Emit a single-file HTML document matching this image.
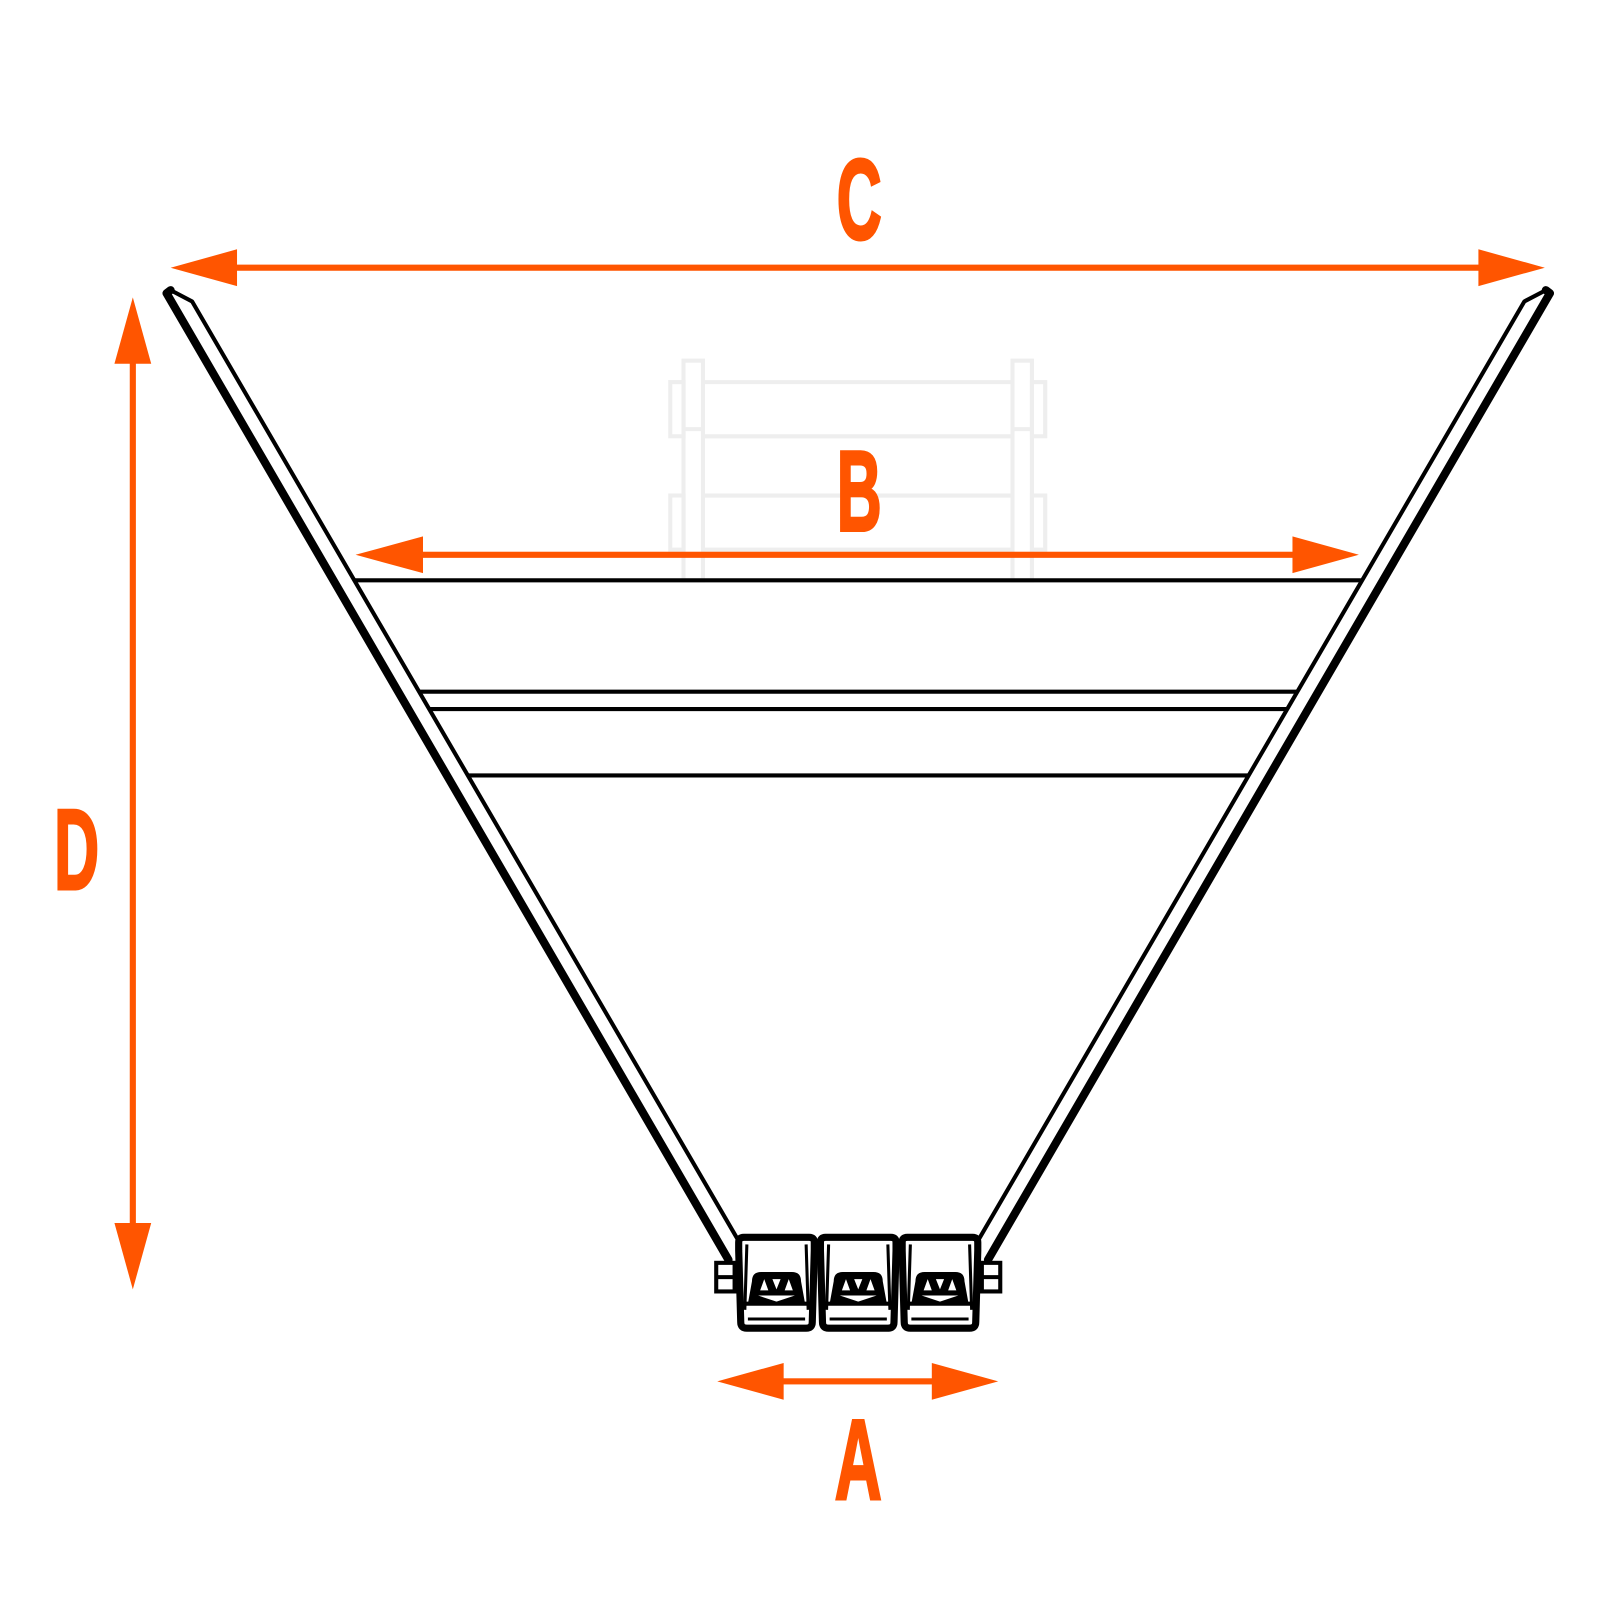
<!DOCTYPE html>
<html><head><style>html,body{margin:0;padding:0;background:#fff}svg{display:block}</style></head>
<body>
<svg width="1600" height="1600" viewBox="0 0 1566 1566" xmlns="http://www.w3.org/2000/svg">
<defs>
<g id="seat">
  <path d="M-37,-38 Q-37,-43 -32,-43 L32,-43 Q37,-43 37,-38 L37,-30 L35,40 Q35,46 29,46 L-29,46 Q-35,46 -35,40 L-37,-30 Z" fill="none" stroke="#000" stroke-width="7" stroke-linejoin="round"/>
  <line x1="-29" y1="-36" x2="-31" y2="28" stroke="#000" stroke-width="3"/>
  <line x1="29" y1="-36" x2="31" y2="28" stroke="#000" stroke-width="3"/>
  <path d="M-24,0 Q-24,-9 -15,-9 L15,-9 Q24,-9 24,0 L28,22 L-28,22 Z" fill="#000"/>
  <path d="M-12,-2 L-8,9 L-16,9 Z M12,-2 L8,9 L16,9 Z M-4,-2 L4,-2 L0,8 Z M-18,14 L18,14 L0,20 Z" fill="#fff"/>
  <line x1="-28" y1="37" x2="28" y2="37" stroke="#000" stroke-width="3"/>
  <line x1="-33" y1="22" x2="33" y2="22" stroke="#000" stroke-width="4"/>
</g>
</defs>
<g fill="none" stroke="#eeeeee" stroke-width="4">
  <rect x="669" y="353" width="19" height="215"/>
  <rect x="991" y="353" width="19" height="215"/>
  <line x1="688" y1="374" x2="991" y2="374"/>
  <line x1="688" y1="427" x2="991" y2="427"/>
  <line x1="688" y1="485" x2="991" y2="485"/>
  <line x1="688" y1="538" x2="991" y2="538"/>
  <rect x="656" y="374" width="13" height="53"/>
  <rect x="1010" y="374" width="13" height="53"/>
  <rect x="656" y="485" width="13" height="53"/>
  <rect x="1010" y="485" width="13" height="53"/>
  <line x1="669" y1="420" x2="688" y2="420"/>
  <line x1="991" y1="420" x2="1010" y2="420"/>
</g>
<g stroke="#000" fill="none" stroke-linecap="round" stroke-linejoin="round">
  <path d="M713,1233 L163,287 L167,284" stroke-width="8"/>
  <path d="M167,284 L188,295 L722,1213" stroke-width="4"/>
  <path d="M967,1233 L1517,287 L1513,284" stroke-width="8"/>
  <path d="M1513,284 L1492,295 L958,1213" stroke-width="4"/>
</g>
<g stroke="#000" stroke-width="4">
  <line x1="347" y1="568" x2="1332" y2="568"/>
  <line x1="410" y1="677" x2="1270" y2="677"/>
  <line x1="421" y1="694" x2="1259" y2="694"/>
  <line x1="457" y1="759" x2="1222" y2="759"/>
</g>
<g fill="none" stroke="#000" stroke-width="4">
  <rect x="701" y="1236" width="18" height="28"/>
  <line x1="701" y1="1250" x2="719" y2="1250"/>
  <rect x="961" y="1236" width="18" height="28"/>
  <line x1="961" y1="1250" x2="979" y2="1250"/>
</g>
<use href="#seat" x="760" y="1254"/>
<use href="#seat" x="840" y="1254"/>
<use href="#seat" x="920" y="1254"/>
<g fill="#ff5500" stroke="none">
  <rect x="225" y="259" width="1230" height="6"/>
  <polygon points="167,262 232,244 232,280"/>
  <polygon points="1512,262 1447,244 1447,280"/>
  <rect x="408" y="540" width="865" height="6"/>
  <polygon points="348,543 414,525 414,561"/>
  <polygon points="1330,543 1265,525 1265,561"/>
  <rect x="760" y="1349" width="160" height="6"/>
  <polygon points="702,1352 767,1334 767,1370"/>
  <polygon points="977,1352 912,1334 912,1370"/>
  <rect x="127" y="350" width="6" height="853"/>
  <polygon points="130,291 112,356 148,356"/>
  <polygon points="130,1262 112,1197 148,1197"/>
</g>
<g fill="#ff5500" stroke="#ff5500" stroke-width="3" font-family="Liberation Sans, sans-serif" font-weight="bold" font-size="112" text-anchor="middle">
  <text x="841" y="234" textLength="44" lengthAdjust="spacingAndGlyphs">C</text>
  <text x="841" y="519" textLength="44" lengthAdjust="spacingAndGlyphs">B</text>
  <text x="75" y="870" textLength="44" lengthAdjust="spacingAndGlyphs">D</text>
  <text x="840" y="1467" textLength="46" lengthAdjust="spacingAndGlyphs">A</text>
</g>
</svg>
</body></html>
